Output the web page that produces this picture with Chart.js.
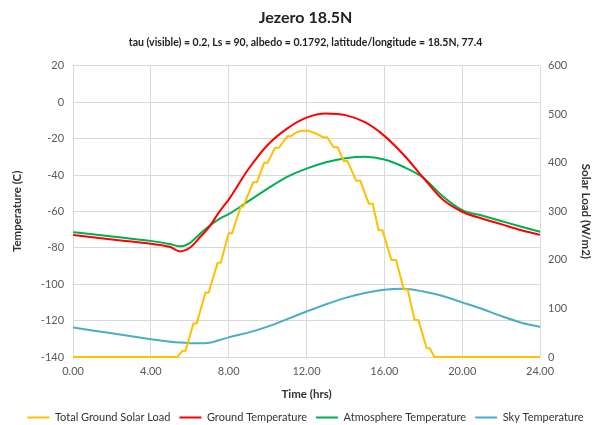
<!DOCTYPE html>
<html>
<head>
<meta charset="utf-8">
<script src="https://cdn.jsdelivr.net/npm/chart.js@4"></script>
<style>
  body { margin: 0; background: #fff; }
  #wrap { width: 613px; height: 425px; }
</style>
</head>
<body>
<div id="wrap"><canvas id="myChart"></canvas></div>
<script>
// hours for the temperature curves
const tempTimes = [0, 1, 2, 3, 4, 5, 5.5, 6, 6.5, 7, 7.5, 8, 9, 10, 11, 12, 13, 14, 15, 16, 17, 18, 19, 20, 21, 22, 23, 24];
const groundTemp = [-73, -74.2, -75.4, -76.6, -77.8, -79.6, -82, -80, -74.5, -68.5, -60.5, -53.5, -37, -23.5, -14.5, -8.5, -6.2, -7.1, -11, -18.5, -29, -41.5, -53.5, -60.2, -63.9, -67, -70.2, -72.9];
const atmosTemp = [-71.4, -72.6, -73.8, -75, -76.2, -78, -79.2, -77.4, -72.5, -68, -64.2, -61.5, -54.5, -47.5, -41, -36.5, -33, -30.8, -30, -31.5, -35.6, -41.5, -51.7, -59.3, -62.3, -65.3, -68.3, -71.2];
const skyTemp = [-123.8, -125.4, -127, -128.6, -130.2, -131.6, -132.1, -132.4, -132.5, -132.2, -130.8, -129.2, -126.6, -123.3, -119.2, -115, -111, -107.5, -104.8, -103, -102.5, -104, -106.5, -110, -113.5, -117.5, -121, -123.5];

// hours and values for the stepped solar load
const solarTimes = [0, 5.35, 5.63, 5.78, 6.19, 6.35, 6.81, 6.97, 7.43, 7.59, 8.0, 8.17, 8.62, 8.75, 9.25, 9.45, 9.82, 10.0, 10.38, 10.58, 11.02, 11.2, 11.45, 11.7, 12.1, 12.45, 12.85, 13.05, 13.4, 13.6, 13.9, 14.1, 14.55, 14.76, 15.2, 15.4, 15.7, 15.9, 16.36, 16.6, 17.0, 17.2, 17.55, 17.75, 18.17, 18.33, 18.57, 24];
const solarLoad = [0, 0, 13, 13, 69, 69, 133, 133, 194, 194, 255, 255, 310, 310, 360, 360, 400, 400, 431, 431, 455, 455, 462, 466, 466, 461, 453, 453, 432, 432, 404, 404, 363, 363, 316, 316, 261, 261, 200, 200, 139, 139, 76, 76, 18, 18, 0, 0];

const leftTicks = [-140, 20, 20];   // min, max, step
const rightTicks = [0, 600, 100];
const timeTicks = [0, 24, 4];

const toPoints = (xs, ys) => xs.map((x, i) => ({x: x, y: ys[i]}));

const fontFam = 'Lato, "Liberation Sans", sans-serif';
const ctx = document.getElementById('myChart');

new Chart(ctx, {
  type: 'line',
  data: {
    datasets: [{
      label: 'Total Ground Solar Load',
      data: toPoints(solarTimes, solarLoad),
      borderColor: '#FFC000',
      backgroundColor: '#FFC000',
      borderWidth: 2,
      yAxisID: 'y1',
      clip: 3,
      tension: 0
    }, {
      label: 'Ground Temperature',
      data: toPoints(tempTimes, groundTemp),
      borderColor: '#FF0000',
      backgroundColor: '#FF0000',
      borderWidth: 2,
      yAxisID: 'y',
      cubicInterpolationMode: 'monotone'
    }, {
      label: 'Atmosphere Temperature',
      data: toPoints(tempTimes, atmosTemp),
      borderColor: '#00B050',
      backgroundColor: '#00B050',
      borderWidth: 2,
      yAxisID: 'y',
      cubicInterpolationMode: 'monotone'
    }, {
      label: 'Sky Temperature',
      data: toPoints(tempTimes, skyTemp),
      borderColor: '#4BACC6',
      backgroundColor: '#4BACC6',
      borderWidth: 2,
      yAxisID: 'y',
      cubicInterpolationMode: 'monotone'
    }]
  },
  options: {
    responsive: true,
    maintainAspectRatio: false,
    animation: false,
    elements: {
      point: { radius: 0 }
    },
    layout: { padding: { left: 4, right: 6, top: 8, bottom: -8 } },
    plugins: {
      title: {
        display: true,
        text: 'Jezero 18.5N',
        color: '#222',
        font: { family: fontFam, size: 16, weight: 'bold' },
        padding: { top: 0, bottom: 4 }
      },
      subtitle: {
        display: true,
        text: 'tau (visible) = 0.2, Ls = 90, albedo = 0.1792, latitude/longitude = 18.5N, 77.4',
        color: '#222',
        font: { family: fontFam, size: 10.5, weight: 'bold' },
        padding: { top: 5, bottom: 17 }
      },
      legend: {
        position: 'bottom',
        labels: {
          usePointStyle: true,
          pointStyle: 'line',
          pointStyleWidth: 22,
          color: '#333',
          font: { family: fontFam, size: 11 },
          padding: 9
        }
      },
      tooltip: { enabled: false }
    },
    scales: {
      x: {
        type: 'linear',
        min: timeTicks[0],
        max: timeTicks[1],
        ticks: {
          stepSize: timeTicks[2],
          color: '#595959',
          font: { family: fontFam, size: 11 },
          padding: 8,
          callback: v => v.toFixed(2)
        },
        grid: { color: '#d9d9d9', drawTicks: false },
        border: { display: false },
        title: {
          display: true,
          text: 'Time (hrs)',
          color: '#333',
          font: { family: fontFam, size: 11.5, weight: 'bold' },
          padding: { top: 1, bottom: 2 }
        }
      },
      y: {
        position: 'left',
        min: leftTicks[0],
        max: leftTicks[1],
        ticks: {
          stepSize: leftTicks[2],
          color: '#595959',
          font: { family: fontFam, size: 11 },
          padding: 9
        },
        grid: { color: '#d9d9d9', drawTicks: false },
        border: { display: false },
        title: {
          display: true,
          text: 'Temperature (C)',
          color: '#333',
          font: { family: fontFam, size: 11.5, weight: 'bold' },
          padding: { top: 6, bottom: 8 }
        }
      },
      y1: {
        position: 'right',
        min: rightTicks[0],
        max: rightTicks[1],
        ticks: {
          stepSize: rightTicks[2],
          color: '#595959',
          font: { family: fontFam, size: 11 },
          padding: 8
        },
        grid: { display: false, drawTicks: false },
        border: { display: false },
        title: {
          display: true,
          text: 'Solar Load (W/m2)',
          color: '#333',
          font: { family: fontFam, size: 11.5, weight: 'bold' },
          padding: { top: 14, bottom: 4 }
        }
      }
    }
  }
});
</script>
</body>
</html>
